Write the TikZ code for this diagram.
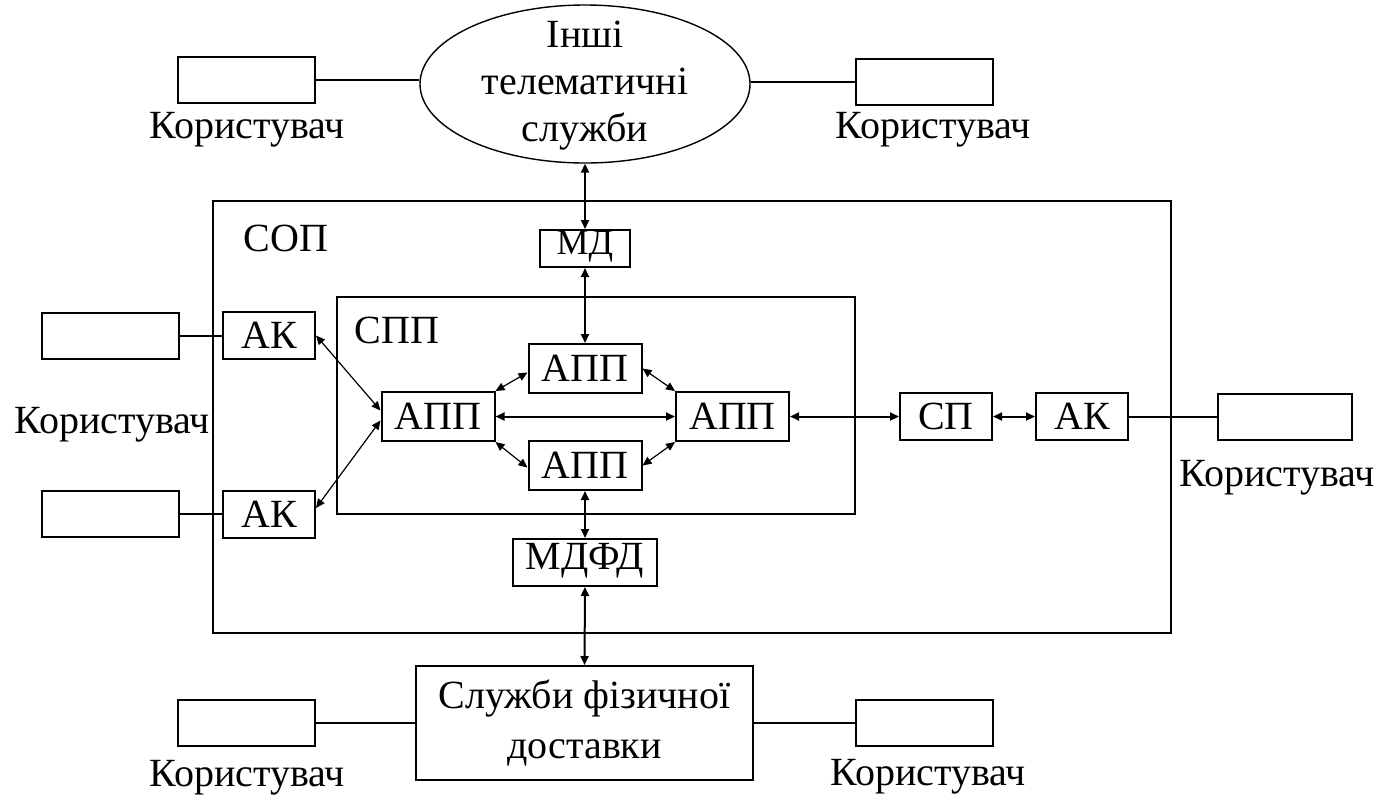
\documentclass[tikz,border=0pt]{standalone}
\usepackage{fontspec}
\setmainfont{Liberation Serif}
\usetikzlibrary{arrows.meta,shapes.geometric}
\begin{document}
\begin{tikzpicture}[x=0.5pt,y=-0.5pt,
  font=\fontsize{20pt}{24pt}\selectfont,
  box/.style={draw,line width=1pt,inner sep=0pt,align=center},
  userbox/.style={box,minimum width=68.5pt,minimum height=23pt},
  small/.style={box,minimum width=46pt,minimum height=23.5pt},
  app/.style={box,minimum width=56.5pt,minimum height=24.5pt},
  frame/.style={draw,line width=1pt,inner sep=0pt},
  link/.style={line width=1pt},
  both/.style={line width=1pt,{Triangle[length=4.5pt,width=4pt]}-{Triangle[length=4.5pt,width=4pt]}},
  thinboth/.style={line width=0.6pt,{Triangle[length=4.5pt,width=4pt]}-{Triangle[length=4.5pt,width=4pt]}},
  lbl/.style={inner sep=0pt}]
\useasboundingbox (0,0) rectangle (1386,799);

% outer and inner systems
\node[frame,minimum width=479pt,minimum height=216pt] (sop) at (692,417) {};
\node[frame,minimum width=259pt,minimum height=108.5pt] (spp) at (596,405.5) {};
\node[lbl] (sopl) at (286,238) {СОП};
\node[lbl] (sppl) at (397,330) {СПП};

% other telematic services
\node[draw,line width=0.7pt,ellipse,inner sep=0pt,minimum width=165pt,minimum height=79pt] (ell) at (585,84) {};
\node[lbl,align=center,font=\fontsize{20pt}{23.5pt}\selectfont] (ellt) at (585,86) {Інші\\телематичні\\служби};
\node[userbox] (utl) at (246.5,80) {};
\node[userbox] (utr) at (924.5,82) {};
\node[lbl] (ltl) at (247,130) {Користувач};
\node[lbl] (ltr) at (933,130) {Користувач};

% modules
\node[box,minimum width=45pt,minimum height=18.5pt,text height=12pt,text depth=6.5pt,font=\fontsize{18pt}{22pt}\selectfont] (md) at (585,248.5) {МД};
\node[box,minimum width=72pt,minimum height=23.5pt,text height=13pt,text depth=6pt] (mdfd) at (585,562.5) {МДФД};

% message transfer agents
\node[app] (appt) at (585,368.5) {АПП};
\node[app] (appl) at (438,416.5) {АПП};
\node[app] (appr) at (732.5,416.5) {АПП};
\node[app] (appb) at (585,465.5) {АПП};

% access units and users
\node[small] (akt) at (269,335.5) {АК};
\node[small] (akb) at (269,514) {АК};
\node[userbox] (ul1) at (110.5,335.5) {};
\node[userbox] (ul2) at (110.5,514) {};
\node[lbl] (ll) at (112,425) {Користувач};

\node[small] (sp) at (946,416.5) {СП};
\node[small] (akr) at (1082,416.5) {АК};
\node[box,minimum width=67pt,minimum height=23pt] (ur) at (1285,416.5) {};
\node[lbl] (lr) at (1277,478) {Користувач};

% physical delivery
\node[box,minimum width=168.5pt,minimum height=57pt] (phys) at (584.5,723) {Служби фізичної\\[1pt]доставки};
\node[userbox] (ubl) at (246.5,723) {};
\node[userbox] (ubr) at (924.5,723) {};
\node[lbl] (lbl1) at (247,778) {Користувач};
\node[lbl] (lbr) at (928,777) {Користувач};

% plain links
\draw[link] (utl.east) -- (utl.east -| ell.west);
\draw[link] (utr.west -| ell.east) -- (utr.west);
\draw[link] (ul1.east) -- (akt.west);
\draw[link] (ul2.east) -- (akb.west);
\draw[link] (akr.east) -- (ur.west);
\draw[link] (phys.west) -- (ubl.east);
\draw[link] (phys.east) -- (ubr.west);

% vertical two-way links
\draw[both] (ell.south) -- (md.north);
\draw[both] (md.south) -- (appt.north);
\draw[both] (appb.south) -- (mdfd.north);
\draw[both] (mdfd.south) -- (phys.north);

% links between agents
\draw[both] (appl.east) -- (appr.west);
\draw[thinboth] (appl.north east) -- ([yshift=-2pt]appt.west);
\draw[thinboth] (appt.east) -- (appr.north west);
\draw[thinboth] (appl.south east) -- ([yshift=-1pt]appb.west);
\draw[thinboth] (appb.east) -- (appr.south west);

% access units to agents
\draw[thinboth] (akt.east) -- ([yshift=3pt]appl.west);
\draw[thinboth] ([yshift=3pt]akb.east) -- ([yshift=-2pt]appl.west);
\draw[both] (appr.east) -- (sp.west);
\draw[both] (sp.east) -- (akr.west);
\end{tikzpicture}
\end{document}
